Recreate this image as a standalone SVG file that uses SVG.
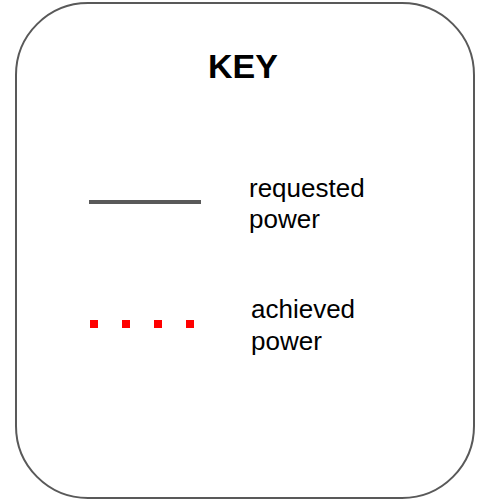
<svg xmlns="http://www.w3.org/2000/svg" width="481" height="501" viewBox="0 0 481 501">
  <style>
    .frame { fill: #ffffff; stroke: #595959; stroke-width: 2; }
    .title { font-family: "Liberation Sans", Arial, sans-serif; font-size: 34px; font-weight: bold; fill: #000000; }
    .label { font-family: "Liberation Sans", Arial, sans-serif; font-size: 26px; fill: #000000; }
    .requested { stroke: #595959; stroke-width: 4; fill: none; }
    .achieved { stroke: #ff0000; stroke-width: 8; stroke-dasharray: 8 24; fill: none; }
  </style>
  <rect width="481" height="501" fill="#ffffff"/>
  <g id="key-frame">
    <rect class="frame" x="16" y="3" width="458" height="495" rx="72" ry="72"/>
    <text class="title" x="243" y="78" text-anchor="middle">KEY</text>
  </g>
  <g id="legend-requested">
    <line class="requested" x1="89" y1="202" x2="201" y2="202"/>
    <text class="label" x="249" y="197">requested</text>
    <text class="label" x="249" y="228">power</text>
  </g>
  <g id="legend-achieved">
    <line class="achieved" x1="90" y1="324" x2="200" y2="324"/>
    <text class="label" x="251" y="318">achieved</text>
    <text class="label" x="251" y="350">power</text>
  </g>
</svg>
